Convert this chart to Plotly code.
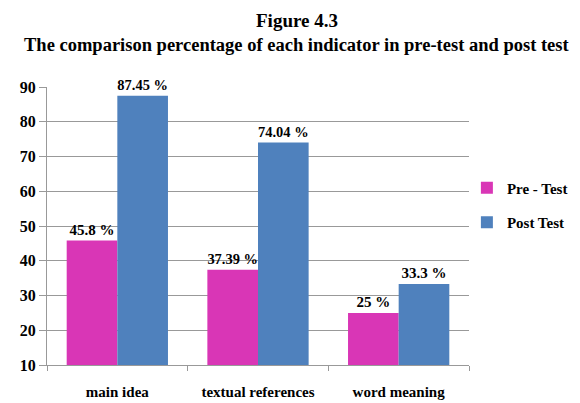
import plotly.graph_objects as go

categories = ["main idea", "textual references", "word meaning"]
pre_test = [45.8, 37.39, 25]
post_test = [87.45, 74.04, 33.3]
y_ticks = [10, 20, 30, 40, 50, 60, 70, 80, 90]

FONT = "Liberation Serif"

fig = go.Figure()
fig.add_trace(go.Bar(
    x=categories, y=pre_test, name="<b>Pre - Test</b>", legendgroup="a",
    marker=dict(color="#D936B6", line=dict(width=0)),
    text=[f"{v:g} %" for v in pre_test], textposition="outside",
    textfont=dict(family=FONT, size=15, color="black"), cliponaxis=False,
))
fig.add_trace(go.Bar(
    x=categories, y=post_test, name="<b>Post Test</b>", legendgroup="b",
    marker=dict(color="#4F81BD", line=dict(width=0)),
    text=[f"{v:g} %" for v in post_test], textposition="outside",
    textfont=dict(family=FONT, size=15, color="black"), cliponaxis=False,
))

# page body has an 8px default margin, so the figure is 8px smaller than the window
fig.update_layout(
    width=572, height=395,
    margin=dict(l=39, r=111, t=79, b=38, autoexpand=False),
    paper_bgcolor="white", plot_bgcolor="white",
    font=dict(family=FONT, color="black"),
    barmode="group", bargap=0.28, bargroupgap=0,
    legend=dict(
        x=0.995, xanchor="left", y=0.5755, yanchor="middle",
        bgcolor="rgba(0,0,0,0)",
        font=dict(family=FONT, size=15, color="black"),
        traceorder="grouped", tracegroupgap=12,
        itemwidth=30,
    ),
    xaxis=dict(
        automargin=False,
        showline=True, linecolor="#999999", linewidth=1,
        ticks="outside", tickson="boundaries", ticklen=5, tickcolor="#999999",
        tickfont=dict(family=FONT, size=15, color="black"),
        ticklabelstandoff=13,
        showgrid=False,
    ),
    yaxis=dict(
        automargin=False,
        range=[10, 90], tickvals=y_ticks,
        showline=True, linecolor="#999999", linewidth=1,
        ticks="outside", ticklen=7, tickcolor="#999999",
        showgrid=True, gridcolor="#999999", gridwidth=1,
        tickfont=dict(family=FONT, size=16, color="black"),
        zeroline=False,
    ),
    annotations=[
        dict(text="<b>Figure 4.3</b>", xref="paper", yref="paper",
             x=0.592, y=1 + 66 / 278, xanchor="center", yanchor="middle",
             showarrow=False, font=dict(family=FONT, size=19, color="black")),
        dict(text="<b>The comparison percentage of each indicator in pre-test and post test</b>",
             xref="paper", yref="paper",
             x=0.592, y=1 + 42 / 278, xanchor="center", yanchor="middle",
             showarrow=False, font=dict(family=FONT, size=18.5, color="black")),
    ],
)
fig.update_traces(texttemplate="<b>%{text}</b>")
fig.update_xaxes(tickvals=categories, ticktext=[f"<b>{c}</b>" for c in categories])
fig.update_yaxes(ticktext=[f"<b>{t}</b>" for t in y_ticks])

fig.write_html("out.html")
